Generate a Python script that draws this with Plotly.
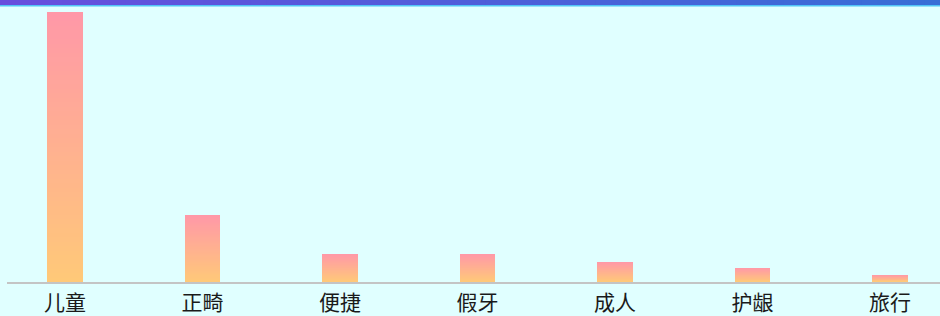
import plotly.graph_objects as go

categories = ["儿童", "正畸", "便捷", "假牙", "成人", "护龈", "旅行"]
values = [270, 67, 28, 28, 20, 14, 7]

TOP_COLOR = (255, 152, 168)
BOTTOM_COLOR = (255, 201, 120)
BAND_LEFT = (104, 78, 221)
BAND_RIGHT = (56, 110, 214)
K = 60
N = 60


def mix(a, b, t):
    return "rgb(%d,%d,%d)" % tuple(round(a[i] + (b[i] - a[i]) * t) for i in range(3))


fig = go.Figure()
for j in range(K, 0, -1):
    frac = j / K
    fig.add_trace(go.Bar(
        x=categories,
        y=[v * frac for v in values],
        width=0.258,
        marker=dict(color=mix(BOTTOM_COLOR, TOP_COLOR, (j - 0.5) / K), line=dict(width=0)),
        hoverinfo="skip",
        showlegend=False,
    ))

# top decorative band (paper coords: plot area is 933 x 276 px, starting at x=7, y=6)
band = []
for i in range(N):
    band.append(dict(
        type="rect", xref="paper", yref="paper", layer="above",
        x0=-7 / 933 + i * (940 / 933) / N, x1=-7 / 933 + (i + 1) * (940 / 933) / N + 0.003,
        y0=(282 - 5) / 276, y1=(282 + 1) / 276,
        line=dict(width=0),
        fillcolor=mix(BAND_LEFT, BAND_RIGHT, (i + 0.5) / N),
    ))
band.append(dict(
    type="rect", xref="paper", yref="paper", layer="above",
    x0=-7 / 933, x1=1.01,
    y0=(282 - 6.5) / 276, y1=(282 - 5) / 276,
    line=dict(width=0), fillcolor="rgb(80,196,246)",
))

fig.update_layout(
    width=940, height=316,
    margin=dict(l=7, r=0, t=6, b=34, autoexpand=False),
    paper_bgcolor="#e0ffff",
    plot_bgcolor="#e0ffff",
    barmode="overlay",
    bargap=0,
    font=dict(family="Noto Sans CJK SC", color="#222222"),
    xaxis=dict(
        range=[-0.4218, 6.3636],
        automargin=False,
        showline=True, linecolor="#c4c4c4", linewidth=1.5,
        showgrid=False, zeroline=False, ticks="",
        tickfont=dict(size=21, color="#1a1a1a"),
        ticklabelstandoff=1,
        fixedrange=True,
    ),
    yaxis=dict(
        range=[0, 276], visible=False, showgrid=False, zeroline=False,
        automargin=False,
        fixedrange=True,
    ),
    shapes=band,
)

fig.write_html(
    "out.html",
    config={"displayModeBar": False},
    post_script="document.body.style.margin='0';document.body.style.overflow='hidden';",
)
